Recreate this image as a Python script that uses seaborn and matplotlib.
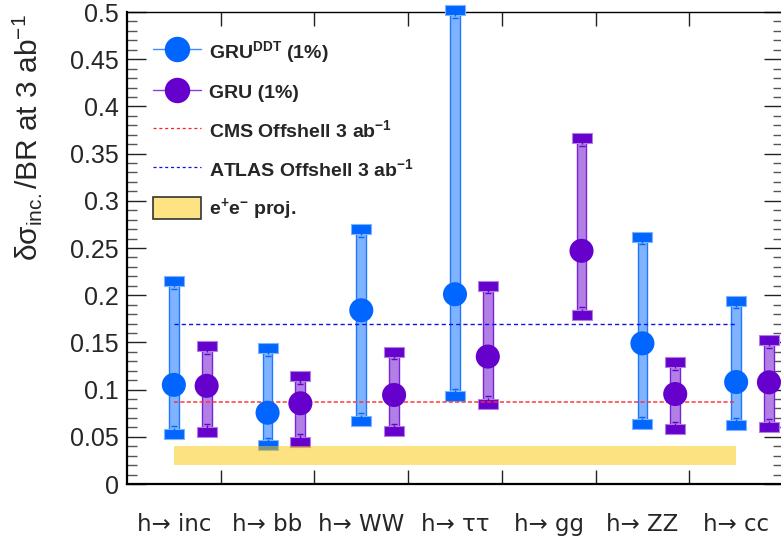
import numpy as np
import pandas as pd
import matplotlib
matplotlib.use("Agg")
import matplotlib.pyplot as plt
from matplotlib.lines import Line2D
from matplotlib.patches import Patch
import seaborn as sns

# ---------------- data ----------------
categories = ["h\u2192 inc", "h\u2192 bb", "h\u2192 WW", "h\u2192 \u03c4\u03c4",
              "h\u2192 gg", "h\u2192 ZZ", "h\u2192 cc"]
ddt_center = [0.105, 0.0755, 0.184, 0.201, np.nan, 0.149, 0.108]
ddt_up     = [0.215, 0.144, 0.270, 0.502, np.nan, 0.262, 0.194]
ddt_lo     = [0.053, 0.041, 0.067, 0.093, np.nan, 0.0635, 0.062]
gru_center = [0.104, 0.0855, 0.0943, 0.135, 0.247, 0.0953, 0.1077]
gru_up     = [0.146, 0.114, 0.140, 0.210, 0.3665, 0.129, 0.1525]
gru_lo     = [0.0556, 0.045, 0.056, 0.0848, 0.179, 0.058, 0.0604]
cms_offshell = 0.087
atlas_offshell = 0.170
ee_proj = [0.020, 0.040]
ytick_values = [0, 0.05, 0.1, 0.15, 0.2, 0.25, 0.3, 0.35, 0.4, 0.45, 0.5]
ytick_labels = ["0", "0.05", "0.1", "0.15", "0.2", "0.25", "0.3", "0.35", "0.4", "0.45", "0.5"]
series_names = ["GRU$^{\\mathbf{DDT}}$ (1%)", "GRU (1%)"]

# ---------------- style ----------------
sns.set_theme(style="white")
plt.rcParams["font.family"] = ["Liberation Sans", "DejaVu Sans"]
plt.rcParams["mathtext.fontset"] = "custom"
plt.rcParams["mathtext.rm"] = "Liberation Sans"
plt.rcParams["mathtext.it"] = "Liberation Sans:italic"
plt.rcParams["mathtext.bf"] = "Liberation Sans:bold"
plt.rcParams["lines.scale_dashes"] = False

BLUE = "#0066ff"
BLUE_FILL = "#80b3ff"
BLUE_EDGE = "#1f78ff"
PURP = "#6600cc"
PURP_FILL = "#b280e5"
PURP_EDGE = "#7a22d6"

fig = plt.figure(figsize=(7.81, 5.43), dpi=100)
ax = fig.add_axes([127 / 781, 1 - 484 / 543, 656 / 781, 472 / 543])

x = np.arange(len(categories))
offsets = [0.5, 0.85]

rows = []
for i in range(len(categories)):
    for k, (c, u, l) in enumerate([(ddt_center, ddt_up, ddt_lo), (gru_center, gru_up, gru_lo)]):
        rows.append(dict(pos=x[i] + offsets[k], center=c[i], up=u[i], lo=l[i], model=series_names[k]))
df = pd.DataFrame(rows).dropna()

colors = {series_names[0]: (BLUE, BLUE_FILL, BLUE_EDGE), series_names[1]: (PURP, PURP_FILL, PURP_EDGE)}
cap_marker = [(-1, -0.45), (1, -0.45), (1, 0.45), (-1, 0.45), (-1, -0.45)]
inner = 0.008

for name, sub in df.groupby("model", sort=False):
    col, fill, edge = colors[name]
    # thick uncertainty band
    ax.bar(sub["pos"], sub["up"] - sub["lo"], bottom=sub["lo"], width=0.105,
           color=fill, edgecolor=edge, linewidth=1.0, zorder=2)
    # end caps
    for col_name in ["up", "lo"]:
        ax.plot(sub["pos"], sub[col_name], linestyle="none", marker=cap_marker,
                markersize=14.5, markerfacecolor=col, markeredgecolor=fill,
                markeredgewidth=0.8, zorder=3, clip_on=False)
    # small inner error-bar ticks
    for col_name, sign in [("up", -1), ("lo", 1)]:
        ax.plot(sub["pos"], sub[col_name] + sign * inner, linestyle="none", marker="_",
                markersize=4.5, markeredgewidth=1.0, color=col, zorder=3)
        ax.plot(sub["pos"], sub[col_name] + sign * inner * 0.55, linestyle="none", marker="|",
                markersize=3.5, markeredgewidth=1.0, color=col, zorder=3)

# e+e- projection band
ax.fill_between([x[0] + 0.5, x[-1] + 0.5], ee_proj[0], ee_proj[1], color="#fbc705",
                alpha=0.5, linewidth=0, zorder=3.5)
# reference lines
ax.plot([x[0] + 0.5, x[-1] + 0.5], [cms_offshell] * 2, color="#ff3030", alpha=0.75,
        linewidth=1.4, dashes=(3.0, 1.6), zorder=4)
ax.plot([x[0] + 0.5, x[-1] + 0.5], [atlas_offshell] * 2, color="#1010ee",
        linewidth=1.0, dashes=(3.0, 2.2), zorder=4)

# markers through seaborn
sns.scatterplot(data=df, x="pos", y="center", hue="model",
                palette={series_names[0]: BLUE, series_names[1]: PURP},
                s=300, edgecolor="none", legend=False, zorder=5, ax=ax)

# ---------------- axes ----------------
ax.set_xlim(0, 7)
ax.set_ylim(0, 0.5)
ax.set_xlabel("")
ax.set_ylabel("\u03b4\u03c3$_{\\mathregular{inc.}}$/BR at 3 ab$^{\\mathregular{-1}}$",
              fontsize=21.5, loc="top")
ax.yaxis.set_label_coords(-0.126, 0.995)

ax.set_xticks(np.arange(1, 7))
ax.set_xticklabels([])
ax.set_xticks(x + 0.5, minor=True)
ax.set_xticklabels(categories, minor=True, family=["DejaVu Sans"])
ax.tick_params(axis="x", which="major", direction="in", length=10, width=1.0,
               top=True, bottom=True, color="#222222")
ax.tick_params(axis="x", which="minor", length=0, pad=21, labelsize=16.5, top=False, bottom=True)

ax.set_yticks(ytick_values)
ax.set_yticklabels(ytick_labels)
ax.set_yticks(np.arange(0, 0.501, 0.01), minor=True)
ax.tick_params(axis="y", which="major", direction="in", length=14, width=1.0,
               left=True, right=True, labelsize=18, pad=6, color="#222222")
ax.tick_params(axis="y", which="minor", direction="in", length=7, width=1.0,
               left=True, right=True, color="#555555")

for side in ["left", "bottom", "right"]:
    ax.spines[side].set_linewidth(1.6)
    ax.spines[side].set_color("black")
ax.spines["top"].set_linewidth(1.0)
ax.spines["top"].set_color("black")

# ---------------- legend ----------------
handles = [
    Line2D([], [], color="#3d8bff", linewidth=1.0, marker="o", markersize=17.3,
           markerfacecolor=BLUE, markeredgecolor=BLUE),
    Line2D([], [], color="#8a3ee0", linewidth=1.0, marker="o", markersize=17.3,
           markerfacecolor=PURP, markeredgecolor=PURP),
    Line2D([], [], color="#ff2020", linewidth=0.9, dashes=(2.2, 2.0)),
    Line2D([], [], color="#1010ee", linewidth=0.9, dashes=(2.2, 2.0)),
    Patch(facecolor="#fde382", edgecolor="#333333", linewidth=1.2),
]
labels = [series_names[0], series_names[1],
          "CMS Offshell 3 ab$^{\\mathbf{-1}}$",
          "ATLAS Offshell 3 ab$^{\\mathbf{-1}}$",
          "e$^{\\mathbf{+}}$e$^{\\mathbf{-}}$ proj."]
leg = ax.legend(handles, labels, loc="upper left", bbox_to_anchor=(0.0396, 0.943),
                frameon=False, borderpad=0, borderaxespad=0, handlelength=2.45,
                handleheight=1.4, labelspacing=0.82, handletextpad=0.45,
                prop={"weight": "bold", "size": 14})
leg.set_zorder(6)

fig.savefig("out.png", dpi=100)
